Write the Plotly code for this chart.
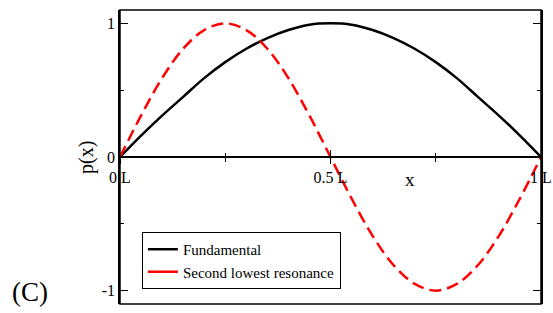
import plotly.graph_objects as go

x_pos = [0.00, 0.05, 0.10, 0.15, 0.20, 0.25, 0.30, 0.35, 0.40, 0.45, 0.50,
         0.55, 0.60, 0.65, 0.70, 0.75, 0.80, 0.85, 0.90, 0.95, 1.00]
fundamental = [0.00, 0.16, 0.31, 0.45, 0.59, 0.71, 0.81, 0.89, 0.95, 0.99, 1.00,
               0.99, 0.95, 0.89, 0.81, 0.71, 0.59, 0.45, 0.31, 0.16, 0.00]
second = [0.00, 0.31, 0.59, 0.81, 0.95, 1.00, 0.95, 0.81, 0.59, 0.31, 0.00,
          -0.31, -0.59, -0.81, -0.95, -1.00, -0.95, -0.81, -0.59, -0.31, 0.00]
series_names = ["Fundamental", "Second lowest resonance"]
x_tickvals = [0, 0.5, 1]
x_ticktext = ["0 L", "0.5 L", "1 L"]
y_tickvals = [-1, 0, 1]
y_ticktext = ["-1", "0", "1"]

SERIF = "Liberation Serif, Times New Roman, DejaVu Serif, serif"

fig = go.Figure()
fig.add_trace(go.Scatter(x=x_pos, y=fundamental, mode="lines", line_shape="spline",
                         line=dict(color="black", width=2.5), showlegend=False))
fig.add_trace(go.Scatter(x=x_pos, y=second, mode="lines", line_shape="spline",
                         line=dict(color="#ff0000", width=2.5, dash="12px,6px"), showlegend=False))
# legend entries (solid swatches as in the reference)
fig.add_trace(go.Scatter(x=[None], y=[None], mode="lines", name=series_names[0],
                         line=dict(color="black", width=2.5)))
fig.add_trace(go.Scatter(x=[None], y=[None], mode="lines", name=series_names[1],
                         line=dict(color="#ff0000", width=2.5)))
# dummy trace on second x-axis for upward ticks
fig.add_trace(go.Scatter(x=[None], y=[None], xaxis="x2", showlegend=False))

fig.update_layout(
    width=553, height=313,
    margin=dict(l=120, r=12, t=10, b=9, autoexpand=False),
    plot_bgcolor="white", paper_bgcolor="white",
    font=dict(family=SERIF, size=16, color="black"),
    xaxis=dict(range=[0, 1], anchor="free", position=0.5,
               tickvals=x_tickvals, ticktext=x_ticktext,
               ticks="outside", ticklen=6, tickwidth=1.2, tickcolor="black",
               minor=dict(tickvals=[0.25, 0.75], ticks="outside", ticklen=4, tickcolor="black", tickwidth=1.2),
               showline=True, linecolor="black", linewidth=1.5,
               showgrid=False, zeroline=False, automargin=False,
               tickfont=dict(family=SERIF, size=16)),
    xaxis2=dict(range=[0, 1], overlaying="x", anchor="free", position=0.5,
                tickvals=x_tickvals, ticks="inside", ticklen=7, tickwidth=1.2, tickcolor="black",
                minor=dict(tickvals=[0.25, 0.75], ticks="inside", ticklen=4, tickcolor="black", tickwidth=1.2),
                showticklabels=False, showline=False, showgrid=False, zeroline=False),
    yaxis=dict(range=[-1.1, 1.1], tickvals=y_tickvals, ticktext=y_ticktext,
               ticks="inside", ticklen=8, tickwidth=1.2, tickcolor="black",
               minor=dict(tickvals=[-0.5, 0.5], ticks="inside", ticklen=4, tickcolor="black", tickwidth=1.2),
               mirror="ticks", showline=True, linecolor="black", linewidth=1.5,
               showgrid=False, zeroline=False, automargin=False,
               tickfont=dict(family=SERIF, size=16)),
    legend=dict(x=0.052, y=0.245, xanchor="left", yanchor="top",
                bordercolor="black", borderwidth=1, bgcolor="white",
                font=dict(family=SERIF, size=15), itemwidth=30,
                tracegroupgap=0),
    shapes=[dict(type="rect", xref="paper", yref="paper", x0=0, x1=1, y0=0, y1=1,
                 line=dict(color="black", width=1.5))],
    annotations=[
        dict(text="p(x)", xref="paper", yref="paper", x=-0.081, y=0.5, textangle=-90,
             showarrow=False, font=dict(family=SERIF, size=20), xanchor="center", yanchor="middle"),
        dict(text="x", xref="x", yref="paper", x=0.69, y=0.422, showarrow=False,
             font=dict(family=SERIF, size=19), xanchor="center", yanchor="middle"),
        dict(text="(C)", xref="paper", yref="paper", x=-0.214, y=0.04, showarrow=False,
             font=dict(family=SERIF, size=27), xanchor="center", yanchor="middle"),
    ],
)

fig.write_html("out.html", config={"displayModeBar": False},
               post_script="document.body.style.margin='0';document.body.style.overflow='hidden';")
